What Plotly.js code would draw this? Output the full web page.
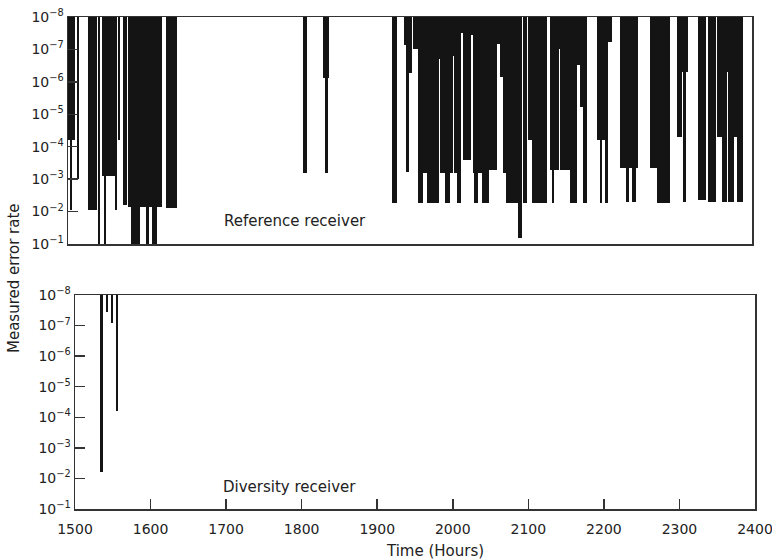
<!DOCTYPE html>
<html>
<head>
<meta charset="utf-8">
<script src="https://cdn.plot.ly/plotly-3.0.1.min.js"></script>
<style>
  html, body { margin: 0; padding: 0; background: #fff; }
  #chart { width: 772px; height: 560px; }
</style>
</head>
<body>
<div id="chart"></div>
<script>
// ---- Data: Reference receiver (each outage: start hour, end hour, measured error rate) ----
const refStart = [1500, 1502.5, 1512, 1526, 1539.5, 1545, 1547.5, 1562, 1566, 1572.5,
  1579, 1583, 1602.5, 1610.5, 1629, 1809, 1835.5, 1838, 1926.5, 1942,
  1945, 1949, 1954, 1960.5, 1967, 1972.5, 1984.5, 1987.5, 1990, 1996,
  2006, 2008, 2012, 2017.5, 2019.5, 2030.5, 2032.5, 2034, 2045, 2054,
  2065, 2068, 2072.5, 2076, 2092, 2099, 2105.5, 2110.5, 2134.5, 2137,
  2145.5, 2148, 2153, 2160.5, 2170, 2174, 2178, 2196, 2196, 2200,
  2207, 2226.5, 2234, 2242, 2266, 2275, 2301.5, 2301.5, 2309, 2329,
  2342, 2354, 2361, 2366.5, 2369, 2376, 2380];
const refEnd = [1509, 1505, 1514.5, 1538, 1542, 1564.5, 1550, 1564.5, 1568.5, 1577.5,
  1624, 1595, 1606.5, 1617, 1643, 1814.5, 1843.5, 1842, 1933, 1952.5,
  1949, 1952.5, 1960.5, 1967, 1987.5, 1984.5, 1987.5, 1990, 2006, 2002.5,
  2008, 2017.5, 2017.5, 2019.5, 2030.5, 2032.5, 2045, 2040, 2054, 2065,
  2068, 2072.5, 2092, 2092, 2097.5, 2104, 2130.5, 2130.5, 2145.5, 2139.5,
  2148, 2153, 2170, 2170, 2174, 2178, 2183, 2216, 2210, 2203,
  2211, 2250, 2238, 2247.5, 2275, 2292, 2316, 2308, 2313, 2340,
  2352.5, 2361, 2366.5, 2369, 2376, 2380, 2388];
const refRate = [6.3e-5, 9e-3, 1e-3, 9e-3, 1e-1, 8e-4, 1e-1, 9e-3, 6.3e-5, 6.3e-3,
  7.2e-3, 1e-1, 1e-1, 1e-1, 8e-3, 6.5e-4, 7.6e-7, 6.5e-4, 5.5e-3, 6.3e-8,
  6e-4, 5.4e-7, 8.5e-8, 5.5e-3, 6.5e-4, 5.5e-3, 5.5e-3, 1.9e-7, 6.5e-4, 5.5e-3,
  1.5e-7, 6.5e-4, 5.5e-3, 2.2e-8, 2.6e-4, 2.5e-8, 6.5e-4, 5.5e-3, 5.5e-3, 5.2e-4,
  5.9e-8, 7e-7, 6.5e-4, 5.5e-3, 6.6e-2, 5.5e-3, 6.3e-5, 5.5e-3, 5.2e-4, 5.5e-3,
  9e-8, 5.2e-4, 5.2e-4, 5.5e-3, 3e-7, 6e-6, 5.5e-3, 5.1e-8, 6.3e-5, 5.5e-3,
  5.5e-3, 4.6e-4, 5.1e-3, 5.1e-3, 4.6e-4, 5.5e-3, 5e-7, 5e-5, 5.1e-3, 4.5e-3,
  5.1e-3, 5e-5, 5.1e-3, 5e-7, 5.1e-3, 5e-5, 5.1e-3];

// ---- Data: Diversity receiver ----
const divStart = [1532.5, 1541, 1548, 1554];
const divEnd = [1537.5, 1544, 1550.5, 1557];
const divRate = [6e-3, 2.5e-8, 7e-8, 6.3e-5];

// ---- Axis labels ----
const rateTicks = [1e-8, 1e-7, 1e-6, 1e-5, 1e-4, 1e-3, 1e-2, 1e-1];
const rateTickText = ['10<sup>−8</sup>', '10<sup>−7</sup>', '10<sup>−6</sup>', '10<sup>−5</sup>',
  '10<sup>−4</sup>', '10<sup>−3</sup>', '10<sup>−2</sup>', '10<sup>−1</sup>'];
const hourTicks = [1500, 1600, 1700, 1800, 1900, 2000, 2100, 2200, 2300, 2400];
const FLOOR_RATE = 1e-8;

const W = 772, H = 560;
const ink = '#141414';
const font = { family: 'DejaVu Sans, sans-serif', size: 13, color: '#222' };
const yTickFont = { family: 'DejaVu Sans, sans-serif', size: 14, color: '#222' };
const labelFont = { family: 'DejaVu Sans, sans-serif', size: 15, color: '#222' };

function mids(s, e) { return s.map((v, i) => (v + e[i]) / 2); }
function widths(s, e) { return s.map((v, i) => e[i] - v); }

const traces = [
  {
    type: 'bar', x: mids(refStart, refEnd), width: widths(refStart, refEnd), y: refRate,
    base: FLOOR_RATE, xaxis: 'x2', yaxis: 'y2',
    marker: { color: ink, line: { width: 0 } }, hoverinfo: 'skip'
  },
  {
    type: 'bar', x: mids(divStart, divEnd), width: widths(divStart, divEnd), y: divRate,
    base: FLOOR_RATE, xaxis: 'x', yaxis: 'y',
    marker: { color: ink, line: { width: 0 } }, hoverinfo: 'skip'
  }
];

const yCommon = {
  type: 'log', range: [-1, -8], tickvals: rateTicks, ticktext: rateTickText,
  ticks: 'inside', ticklen: 10, tickwidth: 1.5, tickcolor: '#333',
  showline: true, linecolor: '#333', linewidth: 1.5, mirror: true,
  showgrid: false, zeroline: false, tickfont: yTickFont, ticklabeloverflow: 'allow'
};

const layout = {
  width: W, height: H,
  margin: { l: 0, r: 0, t: 0, b: 0 },
  paper_bgcolor: '#fff', plot_bgcolor: '#fff',
  showlegend: false, barmode: 'overlay', bargap: 0,
  font: font,
  xaxis: {
    domain: [75 / W, 755 / W], anchor: 'y', range: [1500, 2400],
    tickvals: hourTicks, ticks: 'inside', ticklen: 10, tickwidth: 1.5, tickcolor: '#333',
    showline: true, linecolor: '#333', linewidth: 1.5, mirror: true,
    showgrid: false, zeroline: false, tickfont: yTickFont, ticklabelstandoff: 7,
    ticklabeloverflow: 'allow'
  },
  yaxis: Object.assign({}, yCommon, { domain: [1 - 509 / H, 1 - 295 / H], anchor: 'x' }),
  xaxis2: {
    domain: [68 / W, 752 / W], anchor: 'y2', range: [1500, 2400],
    showticklabels: false, ticks: '',
    showline: true, linecolor: '#333', linewidth: 1.5, mirror: true,
    showgrid: false, zeroline: false
  },
  yaxis2: Object.assign({}, yCommon, { domain: [1 - 244 / H, 1 - 17 / H], anchor: 'x2' }),
  annotations: [
    { text: 'Reference receiver', xref: 'paper', yref: 'paper', x: 295 / W, y: 1 - 221 / H,
      showarrow: false, font: labelFont, xanchor: 'center', yanchor: 'middle' },
    { text: 'Diversity receiver', xref: 'paper', yref: 'paper', x: 289 / W, y: 1 - 487 / H,
      showarrow: false, font: labelFont, xanchor: 'center', yanchor: 'middle' },
    { text: 'Measured error rate', xref: 'paper', yref: 'paper', x: 14 / W, y: 1 - 278 / H,
      textangle: -90, showarrow: false, font: labelFont, xanchor: 'center', yanchor: 'middle' },
    { text: 'Time (Hours)', xref: 'paper', yref: 'paper', x: 435 / W, y: 1 - 551 / H,
      showarrow: false, font: labelFont, xanchor: 'center', yanchor: 'middle' }
  ]
};

Plotly.newPlot('chart', traces, layout, { staticPlot: true, displayModeBar: false });
</script>
</body>
</html>
